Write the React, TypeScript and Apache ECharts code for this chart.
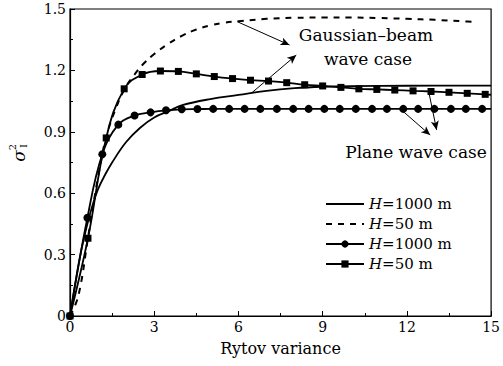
import React, { useEffect, useRef } from "react";
import * as echarts from "echarts";

// Gaussian-beam wave case, H = 1000 m (solid, no markers)
const gb1000X = [0, 0.2, 0.4, 0.6, 0.8, 1, 1.25, 1.5, 2, 2.5, 3, 3.5, 4, 5, 6, 7, 8, 9, 10, 12, 15];
const gb1000Y = [0, 0.17, 0.32, 0.44, 0.54, 0.62, 0.69, 0.75, 0.85, 0.92, 0.97, 1.0, 1.03, 1.06, 1.08, 1.1, 1.113, 1.12, 1.123, 1.125, 1.126];

// Gaussian-beam wave case, H = 50 m (dashed)
const gb50X = [0, 0.3, 0.65, 1.0, 1.3, 1.65, 1.95, 2.3, 2.6, 3, 3.5, 4, 4.5, 5, 5.5, 6, 7, 8, 9, 10, 11, 12, 13, 14, 14.5];
const gb50Y = [0, 0.1, 0.39, 0.68, 0.88, 1.02, 1.11, 1.18, 1.23, 1.28, 1.33, 1.37, 1.4, 1.42, 1.433, 1.44, 1.452, 1.457, 1.458, 1.458, 1.456, 1.452, 1.447, 1.44, 1.436];

// Plane wave case, H = 1000 m (circles)
const pw1000X = [0, 0.62, 1.15, 1.72, 2.3, 2.87, 3.42, 3.98, 4.54, 5.1, 5.67, 6.22, 6.78, 7.37, 7.95, 8.5, 9.06, 9.61, 10.18, 10.76, 11.29, 11.87, 12.4, 12.98, 13.57, 14.1, 14.68, 15];
const pw1000Y = [0, 0.48, 0.79, 0.935, 0.98, 0.995, 1.005, 1.01, 1.011, 1.012, 1.012, 1.012, 1.012, 1.012, 1.012, 1.012, 1.012, 1.012, 1.012, 1.012, 1.012, 1.012, 1.012, 1.012, 1.012, 1.012, 1.012, 1.012];

// Plane wave case, H = 50 m (squares)
const pw50X = [0, 0.64, 1.29, 1.93, 2.57, 3.22, 3.86, 4.5, 5.14, 5.79, 6.43, 7.07, 7.72, 8.36, 9.0, 9.65, 10.29, 10.93, 11.57, 12.22, 12.86, 13.5, 14.15, 14.79, 15];
const pw50Y = [0, 0.38, 0.87, 1.11, 1.18, 1.197, 1.195, 1.183, 1.17, 1.16, 1.152, 1.148, 1.14, 1.13, 1.124, 1.117, 1.11, 1.107, 1.104, 1.1, 1.097, 1.093, 1.088, 1.083, 1.081];

const xTicks = [0, 3, 6, 9, 12, 15];
const yTicks = [0, 0.3, 0.6, 0.9, 1.2, 1.5];

const seriesNames = [
  "Gaussian-beam H=1000 m",
  "Gaussian-beam H=50 m",
  "Plane wave H=1000 m",
  "Plane wave H=50 m",
];

// annotation arrows, in data coordinates [from, to]
const gaussArrows = [
  [[5.96, 1.438], [7.82, 1.324]],
  [[6.48, 1.091], [8.06, 1.275]],
];
const planeArrows = [
  [[11.88, 0.998], [12.83, 0.884]],
  [[12.79, 1.088], [13.06, 0.909]],
];

const FONT = "DejaVu Serif";

function pairs(xs: number[], ys: number[]) {
  return xs.map((x, i) => [x, ys[i]]);
}

export default function App() {
  const ref = useRef<HTMLDivElement>(null);
  useEffect(() => {
    if (!ref.current) return;
    const chart = echarts.init(ref.current, undefined, { renderer: "svg" });
    const black = "#000";
    const arrowLines = [...gaussArrows, ...planeArrows].map((a) => [
      { coord: a[0] },
      { coord: a[1] },
    ]);
    const lastIdx = (arr: number[]) => arr.length - 1;
    const txt = (text: string, x: number, y: number, size: number) => ({
      type: "text",
      x,
      y,
      style: {
        text,
        fontFamily: FONT,
        fontSize: size,
        fill: black,
        textAlign: "center",
        textVerticalAlign: "middle",
        align: "center",
        verticalAlign: "middle",
      },
    });
    chart.setOption({
      animation: false,
      backgroundColor: "#fff",
      grid: {
        left: 70,
        right: 5,
        top: 9,
        bottom: 50,
        show: true,
        borderColor: black,
        borderWidth: 1.2,
      },
      legend: {
        orient: "vertical",
        left: 320,
        top: 191,
        itemWidth: 38,
        itemHeight: 9,
        itemGap: 4,
        data: seriesNames.map((n, i) =>
          i < 2 ? { name: n, itemStyle: { opacity: 0 } } : { name: n }
        ),
        formatter: (name: string) => "{i|H}=" + name.split("=")[1],
        textStyle: {
          fontFamily: FONT,
          fontSize: 15,
          color: black,
          lineHeight: 16,
          rich: {
            i: { fontFamily: FONT, fontSize: 15, fontStyle: "italic", color: black },
          },
        },
      },
      xAxis: {
        type: "value",
        min: 0,
        max: 15,
        interval: 3,
        name: "Rytov variance",
        nameLocation: "middle",
        nameGap: 24,
        nameTextStyle: { fontFamily: FONT, fontSize: 16, color: black },
        axisLine: { lineStyle: { color: black, width: 1.2 } },
        axisTick: { inside: true, length: 5, lineStyle: { color: black } },
        minorTick: { show: true, splitNumber: 2, length: 3, lineStyle: { color: black } },
        splitLine: { show: false },
        axisLabel: {
          fontFamily: FONT,
          fontSize: 14,
          color: black,
          margin: 4,
          formatter: (v: number) => (xTicks.includes(v) ? String(v) : ""),
        },
      },
      yAxis: {
        type: "value",
        min: 0,
        max: 1.5,
        interval: 0.3,
        axisLine: { show: true, lineStyle: { color: black, width: 1.2 } },
        axisTick: { show: true, inside: true, length: 5, lineStyle: { color: black } },
        minorTick: { show: true, splitNumber: 2, length: 3, lineStyle: { color: black } },
        splitLine: { show: false },
        axisLabel: {
          fontFamily: FONT,
          fontSize: 14,
          color: black,
          margin: 4,
          formatter: (v: number) => {
            const t = yTicks.find((k) => Math.abs(k - v) < 1e-6);
            if (t === undefined) return "";
            return t === 0 ? "0" : t.toFixed(1);
          },
        },
      },
      series: [
        {
          name: seriesNames[0],
          type: "line",
          smooth: 0.4,
          symbol: "none",
          lineStyle: { color: black, width: 1.8 },
          itemStyle: { color: black },
          data: pairs(gb1000X, gb1000Y),
          markLine: {
            silent: true,
            symbol: ["none", "arrow"],
            symbolSize: [6, 9],
            label: { show: false },
            lineStyle: { color: black, width: 1, type: "solid" },
            data: arrowLines,
          },
          z: 3,
        },
        {
          name: seriesNames[1],
          type: "line",
          smooth: 0.4,
          symbol: "none",
          lineStyle: { color: black, width: 2, type: [6, 6] },
          itemStyle: { color: black },
          data: pairs(gb50X, gb50Y),
          z: 2,
        },
        {
          name: seriesNames[2],
          type: "line",
          smooth: 0.4,
          symbol: "circle",
          symbolSize: 8,
          lineStyle: { color: black, width: 1.8 },
          itemStyle: { color: black },
          data: pairs(pw1000X, pw1000Y).map((p, i) =>
            i === lastIdx(pw1000X) ? { value: p, symbol: "none" } : p
          ),
          z: 4,
        },
        {
          name: seriesNames[3],
          type: "line",
          smooth: 0.4,
          symbol: "rect",
          symbolSize: 7,
          lineStyle: { color: black, width: 1.8 },
          itemStyle: { color: black },
          data: pairs(pw50X, pw50Y).map((p, i) =>
            i === lastIdx(pw50X) ? { value: p, symbol: "none" } : p
          ),
          z: 5,
        },
      ],
      graphic: [
        txt("Gaussian–beam", 366, 35, 17),
        txt("wave case", 368, 59, 17),
        txt("Plane wave case", 416, 152, 17),
        {
          type: "group",
          x: 19,
          y: 156,
          rotation: Math.PI / 2,
          children: [
            {
              type: "text",
              x: 0,
              y: 0,
              style: {
                text: "σ",
                fontFamily: FONT,
                fontSize: 17,
                fontStyle: "italic",
                fill: black,
                textAlign: "center",
                textVerticalAlign: "middle",
                align: "center",
                verticalAlign: "middle",
              },
            },
            {
              type: "text",
              x: 9,
              y: -7,
              style: {
                text: "2",
                fontFamily: FONT,
                fontSize: 10,
                fill: black,
                textAlign: "center",
                textVerticalAlign: "middle",
                align: "center",
                verticalAlign: "middle",
              },
            },
            {
              type: "text",
              x: 10,
              y: 5,
              style: {
                text: "I",
                fontFamily: FONT,
                fontSize: 9,
                fill: black,
                textAlign: "center",
                textVerticalAlign: "middle",
                align: "center",
                verticalAlign: "middle",
              },
            },
          ],
        },
      ],
    });
    return () => chart.dispose();
  }, []);
  return <div ref={ref} style={{ width: 503, height: 366, position: "absolute", left: 0, top: 0 }} />;
}
